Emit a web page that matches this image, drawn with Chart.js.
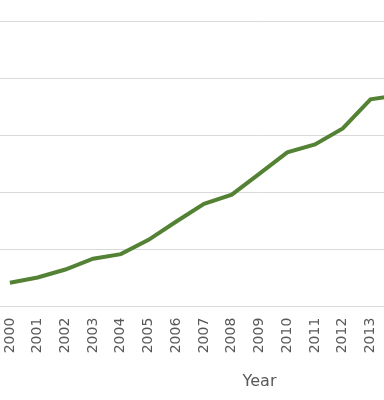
<!DOCTYPE html>
<html>
<head>
<meta charset="utf-8">
<script src="https://cdn.jsdelivr.net/npm/chart.js@4"></script>
<style>
  html, body { margin: 0; padding: 0; background: #fff; overflow: hidden; width: 384px; height: 400px; }
  #wrap { position: absolute; left: -4px; top: 0; width: 541px; height: 400px; }
</style>
</head>
<body>
<div id="wrap"><canvas id="c"></canvas></div>
<script>
const years = ['2000','2001','2002','2003','2004','2005','2006','2007','2008','2009','2010','2011','2012','2013','2014','2015','2016','2017','2018'];
const values = [4.2, 5.1, 6.5, 8.4, 9.2, 11.7, 14.9, 18.0, 19.6, 23.3, 27.0, 28.4, 31.2, 36.3, 37.0, null, null, null, null];
const xTitle = 'Year';

new Chart(document.getElementById('c'), {
  type: 'line',
  data: {
    labels: years,
    datasets: [{
      data: values,
      borderColor: '#548235',
      borderWidth: 4,
      pointRadius: 0,
      tension: 0,
      fill: false
    }]
  },
  options: {
    responsive: true,
    maintainAspectRatio: false,
    animation: false,
    layout: { padding: { top: 21, left: 0, right: 0, bottom: 9 } },
    plugins: { legend: { display: false }, tooltip: { enabled: false } },
    scales: {
      x: {
        offset: true,
        grid: { display: false, drawTicks: false },
        border: { display: true, color: '#d9d9d9', width: 1 },
        ticks: {
          minRotation: 90, maxRotation: 90, autoSkip: false,
          color: '#595959', padding: 11,
          font: { family: 'DejaVu Sans', size: 14 }
        },
        title: {
          display: true, text: xTitle, color: '#595959',
          font: { family: 'DejaVu Sans', size: 16 },
          padding: { top: 7.5, bottom: 0 }
        }
      },
      y: {
        min: 0, max: 50,
        ticks: { display: false, stepSize: 10 },
        grid: { color: '#d9d9d9', drawTicks: false, lineWidth: 1 },
        border: { display: false }
      }
    }
  }
});
</script>
</body>
</html>
